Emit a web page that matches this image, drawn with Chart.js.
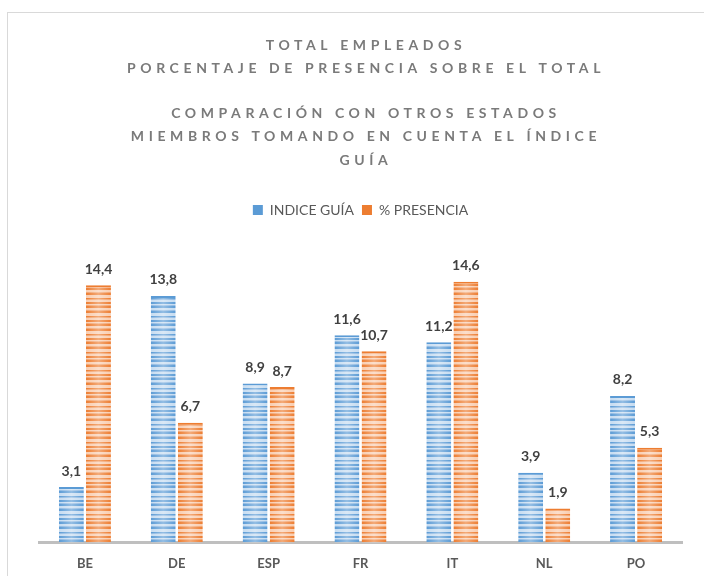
<!DOCTYPE html>
<html>
<head>
<meta charset="utf-8">
<script src="https://cdn.jsdelivr.net/npm/chart.js@4"></script>
<style>
  html, body { margin: 0; padding: 0; background: #fff; }
  #wrap { width: 704px; height: 576px; position: relative; }
</style>
</head>
<body>
<div id="wrap"><canvas id="chart"></canvas></div>
<script>
// Data
const categories = ['BE', 'DE', 'ESP', 'FR', 'IT', 'NL', 'PO'];
const indiceGuia = [3.1, 13.8, 8.9, 11.6, 11.2, 3.9, 8.2];
const presencia = [14.4, 6.7, 8.7, 10.7, 14.6, 1.9, 5.3];
const seriesNames = ['INDICE GUÍA', '% PRESENCIA'];
const titleLines = [
    'TOTAL EMPLEADOS',
    'PORCENTAJE DE PRESENCIA SOBRE EL TOTAL',
    '',
    'COMPARACIÓN CON OTROS ESTADOS',
    'MIEMBROS TOMANDO EN CUENTA EL ÍNDICE',
    'GUÍA'
];

const fontFamily = 'Lato, "Open Sans", sans-serif';
const textColor = '#595959';

// Striped fill like the original bars
function makeStripes(dark, mid, light) {
    const rows = [dark, dark, light, light, mid, dark, dark, light, light, light, dark, mid, light, light, dark, dark, light, mid];
    const c = document.createElement('canvas');
    c.width = 4;
    c.height = rows.length;
    const g = c.getContext('2d');
    rows.forEach((col, i) => {
        g.fillStyle = col;
        g.fillRect(0, i, 4, 1);
    });
    return g.createPattern(c, 'repeat');
}

const ctx = document.getElementById('chart').getContext('2d');
const bluePattern = makeStripes('#5b9bd5', '#8fb9e2', '#c6dcf1');
const orangePattern = makeStripes('#ed7d31', '#f2a470', '#f9cdb0');

// Border + title
const frameAndTitle = {
    id: 'frameAndTitle',
    beforeDraw(chart) {
        const c = chart.ctx;
        c.save();
        c.strokeStyle = '#d9d9d9';
        c.lineWidth = 1;
        c.strokeRect(7.5, 12.5, 720, 600);
        c.restore();
    },
    afterDraw(chart) {
        const c = chart.ctx;
        c.save();
        c.font = 'bold 14px ' + fontFamily;
        c.fillStyle = '#7a7a7a';
        c.textAlign = 'center';
        c.textBaseline = 'middle';
        c.letterSpacing = '4.6px';
        const ys = [45, 68, 90, 113, 136, 160];
        titleLines.forEach((t, i) => {
            if (t) c.fillText(t, 366, ys[i]);
        });
        c.restore();
    }
};

// Soft sheen across each bar, plus value labels above the bars
const barDecor = {
    id: 'barDecor',
    afterDatasetsDraw(chart) {
        const c = chart.ctx;
        c.save();
        chart.data.datasets.forEach((ds, i) => {
            chart.getDatasetMeta(i).data.forEach(bar => {
                const left = bar.x - bar.width / 2;
                const g = c.createLinearGradient(left, 0, left + bar.width, 0);
                g.addColorStop(0, 'rgba(255,255,255,0)');
                g.addColorStop(0.5, 'rgba(255,255,255,0.35)');
                g.addColorStop(1, 'rgba(255,255,255,0)');
                c.fillStyle = g;
                c.fillRect(left, bar.y + 2, bar.width, bar.base - bar.y - 2);
            });
        });
        c.font = 'bold 14px ' + fontFamily;
        c.fillStyle = '#404040';
        c.textAlign = 'center';
        c.textBaseline = 'bottom';
        chart.data.datasets.forEach((ds, i) => {
            chart.getDatasetMeta(i).data.forEach((bar, j) => {
                c.fillText(ds.data[j].toFixed(1).replace('.', ','), bar.x, bar.y - 9);
            });
        });
        c.restore();
    }
};

new Chart(ctx, {
    type: 'bar',
    data: {
        labels: categories,
        datasets: [
            {
                label: seriesNames[0],
                data: indiceGuia,
                backgroundColor: bluePattern,
                borderColor: '#5b9bd5',
                borderWidth: { top: 2 },
                borderSkipped: false
            },
            {
                label: seriesNames[1],
                data: presencia,
                backgroundColor: orangePattern,
                borderColor: '#ed7d31',
                borderWidth: { top: 2 },
                borderSkipped: false
            }
        ]
    },
    options: {
        responsive: true,
        maintainAspectRatio: false,
        animation: false,
        categoryPercentage: 0.59,
        barPercentage: 0.92,
        layout: {
            padding: { top: 195, left: 39, right: 22, bottom: -2 }
        },
        scales: {
            x: {
                grid: { display: false },
                border: { color: '#bfbfbf', width: 3 },
                ticks: {
                    color: textColor,
                    font: { family: fontFamily, size: 13, weight: 'bold' },
                    padding: 6
                }
            },
            y: {
                display: false,
                min: 0,
                max: 17.66
            }
        },
        plugins: {
            legend: {
                position: 'top',
                labels: {
                    boxWidth: 10,
                    boxHeight: 10,
                    padding: 8,
                    color: textColor,
                    font: { family: fontFamily, size: 14 },
                    generateLabels(chart) {
                        return chart.data.datasets.map((ds, i) => ({
                            text: ds.label,
                            fillStyle: ds.borderColor,
                            strokeStyle: ds.borderColor,
                            lineWidth: 0,
                            fontColor: textColor,
                            datasetIndex: i
                        }));
                    }
                }
            },
            tooltip: { enabled: false }
        }
    },
    plugins: [frameAndTitle, barDecor]
});
</script>
</body>
</html>
